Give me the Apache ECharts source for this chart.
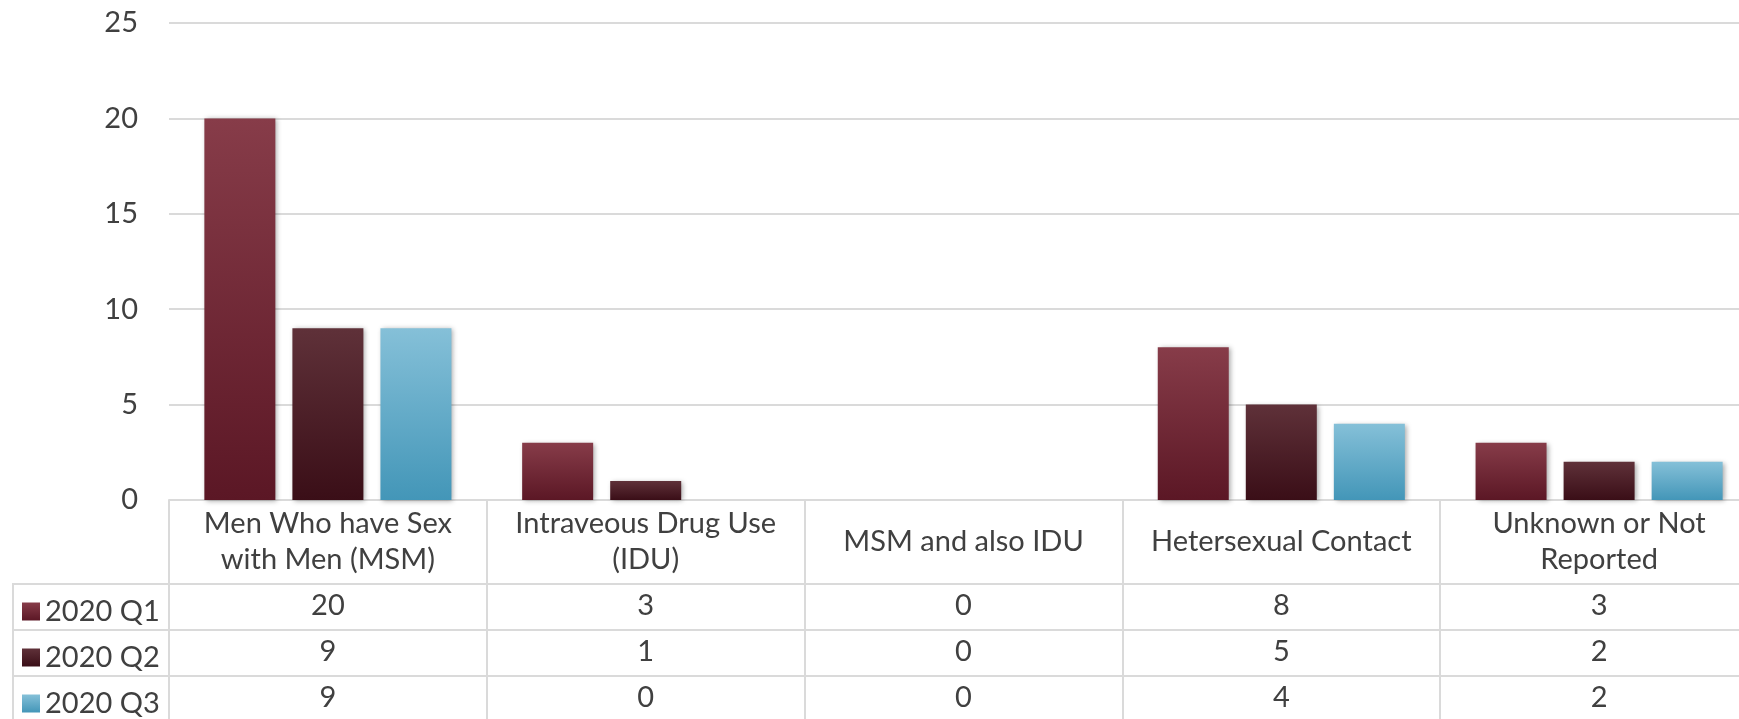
<!DOCTYPE html>
<html>
<head>
<meta charset="utf-8">
<script src="https://cdn.jsdelivr.net/npm/echarts@6/dist/echarts.min.js"></script>
<style>html,body{margin:0;padding:0;background:#fff;}#c{width:1739px;height:719px;}</style>
</head>
<body>
<div id="c"></div>
<script>
// ---- data ----
const categories = ["Men Who have Sex\nwith Men (MSM)", "Intraveous Drug Use\n(IDU)", "MSM and also IDU", "Hetersexual Contact", "Unknown or Not\nReported"];
const seriesNames = ["2020 Q1", "2020 Q2", "2020 Q3"];
const q1 = [20, 3, 0, 8, 3];
const q2 = [9, 1, 0, 5, 2];
const q3 = [9, 0, 0, 4, 2];
const yTicks = [0, 5, 10, 15, 20, 25];

// ---- styles / layout ----
const FONT = 'Lato';
const TXT = '#404040';
const LINE = '#dadada';
const FS = 29;
const gridTop = 23, gridLeft = 169, gridBottom = 219, gridWidth = 1589;
const axisY = 719 - gridBottom;           // 500
const rowLines = [584, 630, 676];
const rowCenters = [606, 652, 698];
const grads = [
  ['#873c49', '#5b1725'],
  ['#5f3139', '#3a0e17'],
  ['#85c0d8', '#4396b8']
];
function grad(c) {
  return new echarts.graphic.LinearGradient(0, 0, 0, 1, [{offset: 0, color: c[0]}, {offset: 1, color: c[1]}]);
}
const values = [q1, q2, q3];

const chart = echarts.init(document.getElementById('c'), null, {renderer: 'canvas'});

const xAxes = [{
  type: 'category',
  data: categories,
  gridIndex: 0,
  position: 'bottom',
  axisLine: {show: true, lineStyle: {color: LINE, width: 2}},
  axisTick: {show: true, length: 225, interval: 0, lineStyle: {color: LINE, width: 2}},
  axisLabel: {
    interval: 0, margin: 42, verticalAlign: 'middle', hideOverlap: false,
    fontFamily: FONT, fontSize: FS, color: TXT, lineHeight: 36, align: 'center'
  },
  splitLine: {show: false}
}];
values.forEach((arr, k) => {
  xAxes.push({
    type: 'category',
    data: categories,
    gridIndex: 0,
    position: 'bottom',
    offset: rowCenters[k] - axisY,
    axisLine: {show: false},
    axisTick: {show: false},
    splitLine: {show: false},
    axisLabel: {
      interval: 0, margin: 0, verticalAlign: 'middle',
      fontFamily: FONT, fontSize: FS, color: TXT,
      formatter: (v, i) => String(arr[i])
    }
  });
});

const legends = seriesNames.map((name, k) => ({
  orient: 'horizontal',
  left: 22,
  top: rowCenters[k] - 9,
  itemWidth: 18,
  itemHeight: 18,
  icon: 'rect',
  selectedMode: false,
  padding: 0,
  textStyle: {fontFamily: FONT, fontSize: FS, color: TXT},
  data: [name]
}));

const graphics = [];
rowLines.forEach(y => {
  graphics.push({type: 'line', shape: {x1: 12, y1: y, x2: 1739, y2: y}, style: {stroke: LINE, lineWidth: 2}, z: 1});
});
graphics.push({type: 'line', shape: {x1: 13, y1: rowLines[0], x2: 13, y2: 719}, style: {stroke: LINE, lineWidth: 2}, z: 1});

chart.setOption({
  animation: false,
  backgroundColor: '#fff',
  grid: {left: gridLeft, width: gridWidth, top: gridTop, bottom: gridBottom, containLabel: false, outerBoundsMode: 'none'},
  legend: legends,
  xAxis: xAxes,
  yAxis: {
    type: 'value',
    min: yTicks[0],
    max: yTicks[yTicks.length - 1],
    interval: yTicks[1] - yTicks[0],
    axisLine: {show: false},
    axisTick: {show: false},
    axisLabel: {margin: 31, fontFamily: FONT, fontSize: FS, color: TXT},
    splitLine: {show: true, lineStyle: {color: LINE, width: 2}}
  },
  series: seriesNames.map((name, k) => ({
    name: name,
    type: 'bar',
    xAxisIndex: 0,
    data: values[k],
    barWidth: 71,
    barGap: '24%',
    itemStyle: {
      color: grad(grads[k]),
      shadowColor: 'rgba(0,0,0,0.35)',
      shadowBlur: 5,
      shadowOffsetX: 2,
      shadowOffsetY: 1
    },
    z: 3
  })),
  graphic: graphics
});
</script>
</body>
</html>
